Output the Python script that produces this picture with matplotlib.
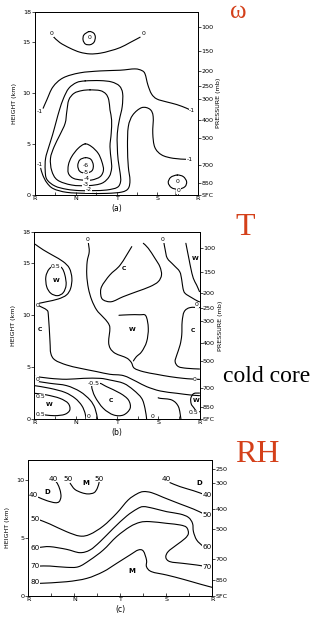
import matplotlib
matplotlib.use('Agg')
import matplotlib.pyplot as plt
from matplotlib.ticker import MultipleLocator
from matplotlib.path import Path
from matplotlib.patches import PathPatch

# ---------------- data ----------------
cats = ['R', 'N', 'T', 'S', 'R']
press_labels_ab = ['100', '150', '200', '250', '300', '400', '500', '700', '850', 'SFC']
press_heights_ab = [16.5, 14.15, 12.15, 10.7, 9.45, 7.35, 5.6, 2.95, 1.2, 0]
press_labels_c = ['250', '300', '400', '500', '700', '850', 'SFC']
press_heights_c = [10.95, 9.74, 7.49, 5.75, 3.15, 1.36, 0]

# panel (a) omega contours: (x in octant units R..R = 0..4, height km)
a_zero_arc_x = [0.45, 0.61, 0.86, 1.10, 1.35, 1.60, 1.84, 2.09, 2.33, 2.58]
a_zero_arc_y = [15.54, 14.95, 14.40, 14.01, 13.84, 13.91, 14.14, 14.46, 14.95, 15.48]
a_zero_loop_x = [1.33, 1.44, 1.48, 1.45, 1.36, 1.24, 1.18, 1.20, 1.33]
a_zero_loop_y = [16.03, 15.88, 15.50, 15.00, 14.75, 14.80, 15.20, 15.70, 16.03]
a_m1_upper_x = [0.20, 0.29, 0.44, 0.69, 1.10, 1.60, 2.09, 2.45, 2.62, 2.70, 2.77, 2.86, 2.99, 3.23, 3.48, 3.72, 3.82]
a_m1_upper_y = [8.51, 9.33, 10.60, 11.49, 11.98, 12.17, 12.24, 12.37, 12.21, 11.88, 10.80, 9.91, 9.42, 9.13, 8.87, 8.51, 8.31]
a_m1_lower_x = [0.14, 0.19, 0.29, 0.45, 0.78, 1.27, 1.76, 2.13, 2.29, 2.33, 2.29, 2.27, 2.29, 2.40, 2.62, 2.82, 2.90, 2.89, 2.94, 3.11, 3.39, 3.72]
a_m1_lower_y = [2.62, 1.96, 1.21, 0.62, 0.26, 0.16, 0.16, 0.29, 0.65, 1.47, 2.78, 4.74, 6.71, 7.85, 8.57, 8.41, 7.69, 6.05, 4.68, 3.93, 3.60, 3.50]
a_m2_x = [1.23, 1.60, 1.88, 2.07, 2.15, 2.14, 2.07, 2.02, 2.02, 2.04, 2.09, 2.10, 2.02, 1.76, 1.43, 1.10, 0.78, 0.49,
          0.29, 0.25, 0.26, 0.34, 0.43, 0.52, 0.60, 0.70, 0.83, 1.02, 1.23]
a_m2_y = [11.19, 11.22, 11.09, 10.70, 9.98, 8.67, 7.36, 6.05, 4.74, 3.44, 2.13, 1.31, 0.75, 0.49, 0.43, 0.43, 0.56, 0.88,
          1.54, 2.45, 3.60, 4.74, 5.89, 7.20, 8.34, 9.49, 10.47, 11.03, 11.19]
a_m3_x = [1.35, 1.60, 1.74, 1.81, 1.84, 1.88, 1.87, 1.84, 1.87, 1.88, 1.82, 1.64, 1.31, 0.90, 0.55, 0.41, 0.38, 0.47,
          0.61, 0.74, 0.78, 0.83, 0.96, 1.15, 1.35]
a_m3_y = [10.31, 10.24, 9.91, 9.33, 8.34, 7.36, 6.05, 4.74, 3.44, 2.62, 1.80, 1.15, 0.92, 0.98, 1.47, 2.39, 3.60, 4.74,
          5.89, 7.04, 8.18, 9.33, 9.98, 10.24, 10.31]
a_m4_x = [1.23, 1.39, 1.55, 1.64, 1.68, 1.60, 1.39, 1.15, 0.94, 0.82, 0.82, 0.90, 1.06, 1.23]
a_m4_y = [5.01, 4.74, 4.09, 3.27, 2.45, 1.80, 1.47, 1.47, 1.64, 2.13, 2.95, 3.76, 4.58, 5.01]
a_m5_x = [1.24, 1.37, 1.43, 1.40, 1.25, 1.10, 1.05, 1.10, 1.24]
a_m5_y = [3.66, 3.50, 2.95, 2.39, 2.13, 2.32, 2.88, 3.44, 3.66]
a_br_loop_x = [3.49, 3.64, 3.72, 3.68, 3.52, 3.35, 3.27, 3.33, 3.49]
a_br_loop_y = [1.96, 1.80, 1.31, 0.82, 0.56, 0.72, 1.21, 1.73, 1.96]
a_br_stub_x = [3.47, 3.46]
a_br_stub_y = [0.45, 0.0]
a_labels = [(0.41, 15.80, '0'), (2.66, 15.80, '0'), (1.34, 15.42, '0'), (0.12, 8.18, '-1'), (3.85, 8.25, '-1'),
            (3.80, 3.44, '-1'), (0.11, 3.01, '-1'), (1.24, 2.88, '-6'), (1.25, 2.22, '-5'), (1.27, 1.57, '-4'),
            (1.24, 1.03, '-3'), (1.31, 0.50, '-2'), (3.49, 1.28, '0'), (3.52, 0.42, '0')]

# panel (b) temperature contours
b_l1_x = [0.02, 0.22, 0.46, 0.70, 0.85, 0.91, 0.88, 0.78, 0.58, 0.30, 0.12]
b_l1_y = [16.85, 16.30, 15.75, 15.17, 14.53, 13.57, 12.60, 11.96, 11.57, 11.31, 11.16]
b_w_loop_x = [0.50, 0.66, 0.74, 0.77, 0.70, 0.56, 0.40, 0.30, 0.28, 0.36, 0.50]
b_w_loop_y = [14.78, 14.59, 13.89, 12.92, 12.18, 11.89, 12.12, 12.76, 13.72, 14.46, 14.78]
b_l3_x = [1.31, 1.33, 1.28, 1.27, 1.31, 1.39, 1.51, 1.66, 1.78, 1.83, 1.80, 1.84, 1.95, 2.10, 2.25, 2.35, 2.42, 2.64,
          2.96, 3.29, 3.61, 3.80, 4.0]
b_l3_y = [16.94, 16.13, 15.17, 13.89, 12.60, 11.48, 10.51, 9.85, 9.30, 8.75, 7.45, 6.80, 6.35, 6.10, 5.85, 5.45, 4.90,
          4.56, 4.31, 4.08, 3.92, 3.86, 3.82]
b_wmid_x = [2.05, 2.30, 2.55, 2.70, 2.76, 2.72, 2.60, 2.47, 2.40]
b_wmid_y = [10.00, 10.05, 10.05, 9.95, 8.75, 7.45, 6.49, 6.00, 5.60]
b_cloop_x = [2.36, 2.08, 1.83, 1.63, 1.61, 1.67, 1.87, 2.15, 2.48, 2.80, 3.00, 3.08, 3.04, 2.92, 2.76, 2.64]
b_cloop_y = [16.62, 14.85, 13.89, 12.76, 11.96, 11.48, 11.31, 11.79, 12.28, 12.76, 13.24, 13.89, 14.69, 15.50, 16.46, 16.94]
b_l5_x = [3.14, 3.17, 3.22, 3.37, 3.52, 3.57, 3.60, 3.65, 3.81, 3.95, 4.0]
b_l5_y = [16.95, 16.30, 15.50, 14.86, 14.21, 13.41, 12.60, 12.12, 11.70, 11.38, 11.30]
b_l6_x = [4.0, 3.77, 3.63, 3.58, 3.57, 3.53, 3.45, 3.41, 3.49, 3.69, 4.0]
b_l6_y = [10.74, 10.74, 10.35, 9.39, 8.10, 7.14, 6.17, 5.53, 5.05, 4.89, 4.82]
b_l7_x = [3.67, 3.71, 3.75, 3.79, 3.85, 3.93, 4.0]
b_l7_y = [16.94, 16.13, 15.33, 14.53, 13.57, 12.92, 12.28]
b_l4_x = [0.12, 0.30, 0.34, 0.38, 0.40, 0.50, 0.78, 1.11, 1.51, 1.83, 2.16, 2.48, 2.72, 3.05, 3.45, 3.77, 4.0]
b_l4_y = [10.90, 10.51, 10.03, 7.46, 6.33, 5.69, 5.21, 4.89, 4.57, 4.31, 4.18, 3.60, 3.12, 2.70, 2.48, 2.32, 2.25]
b_p1_x = [0.0, 0.38, 0.78, 1.19, 1.59, 1.83, 2.16, 2.40, 2.60, 2.68, 2.72]
b_p1_y = [4.12, 3.92, 3.83, 3.92, 3.92, 3.76, 3.44, 2.80, 1.99, 1.03, 0.0]
b_p3_x = [0.0, 0.38, 0.78, 1.11, 1.35, 1.47, 1.53]
b_p3_y = [3.67, 3.44, 3.22, 2.64, 1.83, 1.03, 0.0]
b_p2_x = [0.0, 0.38, 0.74, 0.99, 1.15, 1.23, 1.25]
b_p2_y = [3.22, 2.96, 2.57, 1.99, 1.29, 0.55, 0.0]
b_half_x = [0.0, 0.30, 0.62, 0.82, 0.86, 0.74, 0.50, 0.26, 0.0]
b_half_y = [2.48, 2.32, 1.99, 1.51, 0.87, 0.45, 0.32, 0.39, 0.45]
b_cold_x = [1.45, 1.59, 1.75, 2.08, 2.28, 2.32, 2.16, 1.92, 1.67, 1.47, 1.39, 1.45]
b_cold_y = [3.40, 3.44, 3.12, 2.48, 1.83, 1.03, 0.39, 0.39, 1.03, 2.15, 3.12, 3.40]
b_g_x = [3.00, 3.05, 3.33, 3.49, 3.55]
b_g_y = [2.05, 1.99, 1.83, 1.19, 0.0]
b_wbr_x = [4.0, 3.86, 3.79, 3.80, 3.86, 3.93, 4.0]
b_wbr_y = [2.50, 2.45, 2.00, 1.45, 1.10, 0.75, 0.70]
b_labels = [(0.07, 10.99, '0'), (0.52, 14.75, '0.5'), (1.28, 17.26, '0'), (3.11, 17.27, '0'), (3.94, 11.0, '0'),
            (3.89, 3.83, '0'), (0.07, 3.83, '0'), (1.43, 3.44, '-0.5'), (0.14, 2.15, '0.5'), (0.14, 0.45, '0.5'),
            (1.31, 0.23, '0'), (2.86, 0.23, '0'), (3.86, 0.62, '0.5')]
b_letters = [(0.53, 13.31, 'W'), (3.89, 15.43, 'W'), (2.16, 14.53, 'C'), (0.14, 8.59, 'C'), (2.36, 8.59, 'W'),
             (3.85, 8.52, 'C'), (0.36, 1.35, 'W'), (1.86, 1.77, 'C'), (3.93, 1.80, 'W')]

# panel (c) relative humidity contours
c_40l_x = [0.58, 0.63, 0.69, 0.71, 0.67, 0.58, 0.40, 0.22]
c_40l_y = [9.97, 9.74, 9.16, 8.58, 8.15, 8.06, 8.24, 8.53]
c_50t_x = [0.91, 1.01, 1.16, 1.30, 1.43, 1.50, 1.54]
c_50t_y = [9.74, 9.22, 8.93, 8.82, 8.93, 9.31, 9.83]
c_40r_x = [3.08, 3.30, 3.59, 3.79]
c_40r_y = [9.80, 9.45, 9.10, 8.82]
c_50_x = [0.25, 0.47, 0.83, 1.12, 1.34, 1.63, 1.92, 2.17, 2.36, 2.50, 2.68, 2.93, 3.30, 3.59, 3.79]
c_50_y = [6.56, 6.21, 5.55, 5.17, 5.32, 6.04, 7.14, 8.29, 8.82, 9.02, 8.93, 8.53, 7.95, 7.51, 7.14]
c_60_x = [0.25, 0.47, 0.83, 1.12, 1.34, 1.56, 1.85, 2.14, 2.36, 2.50, 2.72, 3.01, 3.30, 3.48, 3.57, 3.59, 3.66, 3.79]
c_60_y = [4.19, 4.25, 4.02, 3.73, 3.96, 4.68, 5.84, 6.91, 7.51, 7.72, 7.57, 7.28, 7.08, 6.79, 6.27, 5.55, 4.83, 4.31]
c_70_x = [0.25, 0.47, 0.83, 1.09, 1.34, 1.63, 1.92, 2.21, 2.43, 2.64, 3.01, 3.30, 3.44, 3.48, 3.41, 3.22, 3.04, 2.99,
          3.08, 3.37, 3.66, 3.80]
c_70_y = [2.57, 2.57, 2.46, 2.51, 3.09, 3.96, 5.12, 5.98, 6.36, 6.42, 6.27, 6.13, 5.92, 5.40, 4.97, 4.39, 3.82, 3.32,
          2.95, 2.80, 2.66, 2.57]
c_80_x = [0.25, 0.83, 1.27, 1.63, 1.92, 2.21, 2.39, 2.50, 2.57, 2.57, 2.68, 3.01, 3.37, 3.73, 4.0]
c_80_y = [1.07, 1.21, 1.50, 2.08, 2.80, 3.53, 3.96, 3.87, 3.09, 2.51, 2.08, 1.79, 1.42, 1.01, 0.72]
c_labels = [(0.11, 8.73, '40'), (0.54, 10.12, '40'), (0.87, 10.12, '50'), (1.54, 10.12, '50'), (2.99, 10.12, '40'),
            (3.88, 8.73, '40'), (0.14, 6.68, '50'), (3.88, 6.99, '50'), (0.14, 4.10, '60'), (3.88, 4.19, '60'),
            (0.14, 2.57, '70'), (3.88, 2.51, '70'), (0.14, 1.16, '80')]
c_letters = [(0.42, 9.02, 'D'), (1.25, 9.74, 'M'), (3.71, 9.74, 'D'), (2.26, 2.17, 'M')]

# ---------------- drawing ----------------
W, H = 323, 623
fig = plt.figure(figsize=(W / 100, H / 100), dpi=100)
fig.patch.set_facecolor('white')

LW = 0.8
TFS = 4.6


def box(l, t, r, b):
    return [l / W, 1 - b / H, (r - l) / W, (b - t) / H]


def setup(ax, ytop, yticks, plabels, pheights, letter, plab=True):
    ax.set_xlim(0, 4)
    ax.set_ylim(0, ytop)
    for s in ax.spines.values():
        s.set_linewidth(0.7)
    ax.set_xticks(range(5))
    ax.set_xticklabels(cats, fontsize=TFS)
    ax.xaxis.set_minor_locator(MultipleLocator(0.5))
    ax.tick_params(axis='x', which='both', direction='in', length=2.5, width=0.5, pad=1)
    ax.set_yticks(yticks)
    ax.set_yticklabels([str(v) for v in yticks], fontsize=TFS)
    ax.tick_params(axis='y', direction='out', length=2, width=0.5, pad=1)
    ax2 = ax.twinx()
    ax2.set_ylim(0, ytop)
    ax2.set_yticks(pheights)
    ax2.set_yticklabels(plabels, fontsize=TFS)
    ax2.tick_params(axis='y', direction='out', length=2, width=0.5, pad=0.5)
    for s in ax2.spines.values():
        s.set_linewidth(0.7)
    ax.set_xlabel(letter, fontsize=5.5, labelpad=2)
    ax.set_ylabel('HEIGHT (km)', fontsize=4.6, labelpad=4)
    if plab:
        ax2.set_ylabel('PRESSURE (mb)', fontsize=4.6, labelpad=2, rotation=90)
    return ax2


def line(ax, xs, ys):
    # smooth rendering (Catmull-Rom as cubic Bezier segments) through the read points
    pts = list(zip(xs, ys))
    closed = len(pts) > 3 and pts[0] == pts[-1]
    n = len(pts)
    if n < 3:
        ax.plot(xs, ys, color='black', lw=LW, zorder=2)
        return
    verts = [pts[0]]
    codes = [Path.MOVETO]
    for i in range(n - 1):
        p1, p2 = pts[i], pts[i + 1]
        if i > 0:
            p0 = pts[i - 1]
        else:
            p0 = pts[-2] if closed else p1
        if i + 2 < n:
            p3 = pts[i + 2]
        else:
            p3 = pts[1] if closed else p2
        c1 = (p1[0] + (p2[0] - p0[0]) / 6, p1[1] + (p2[1] - p0[1]) / 6)
        c2 = (p2[0] - (p3[0] - p1[0]) / 6, p2[1] - (p3[1] - p1[1]) / 6)
        verts += [c1, c2, p2]
        codes += [Path.CURVE4] * 3
    ax.add_patch(PathPatch(Path(verts, codes), facecolor='none', edgecolor='black', lw=LW,
                           capstyle='round', zorder=2, clip_on=True))


def lab(ax, items, fs=4.4):
    for x, y, s in items:
        ax.text(x, y, s, fontsize=fs, ha='center', va='center', zorder=3,
                bbox=dict(facecolor='white', edgecolor='none', pad=0.2))


def letters(ax, items, fs=4.4):
    for x, y, s in items:
        ax.text(x, y, s, fontsize=fs, ha='center', va='center', fontweight='bold', zorder=3)


# ---- panel (a)
axa = fig.add_axes(box(35, 11.5, 198, 195))
setup(axa, 18, [0, 5, 10, 15, 18], press_labels_ab, press_heights_ab, '(a)')
for xs, ys in [(a_zero_arc_x, a_zero_arc_y), (a_zero_loop_x, a_zero_loop_y), (a_m1_upper_x, a_m1_upper_y),
               (a_m1_lower_x, a_m1_lower_y), (a_m2_x, a_m2_y), (a_m3_x, a_m3_y), (a_m4_x, a_m4_y),
               (a_m5_x, a_m5_y), (a_br_loop_x, a_br_loop_y), (a_br_stub_x, a_br_stub_y)]:
    line(axa, xs, ys)
lab(axa, a_labels)

# ---- panel (b)
axb = fig.add_axes(box(34.3, 232.3, 199.5, 419))
setup(axb, 18, [0, 5, 10, 15, 18], press_labels_ab, press_heights_ab, '(b)')
for xs, ys in [(b_l1_x, b_l1_y), (b_w_loop_x, b_w_loop_y), (b_l3_x, b_l3_y), (b_wmid_x, b_wmid_y),
               (b_cloop_x, b_cloop_y), (b_l5_x, b_l5_y), (b_l6_x, b_l6_y), (b_l7_x, b_l7_y), (b_l4_x, b_l4_y),
               (b_p1_x, b_p1_y), (b_p3_x, b_p3_y), (b_p2_x, b_p2_y), (b_half_x, b_half_y), (b_cold_x, b_cold_y),
               (b_g_x, b_g_y), (b_wbr_x, b_wbr_y)]:
    line(axb, xs, ys)
lab(axb, b_labels)
letters(axb, b_letters)

# ---- panel (c)
axc = fig.add_axes(box(28.3, 460, 212.3, 595.7))
setup(axc, 11.76, [0, 5, 10], press_labels_c, press_heights_c, '(c)', plab=False)
for xs, ys in [(c_40l_x, c_40l_y), (c_50t_x, c_50t_y), (c_40r_x, c_40r_y), (c_50_x, c_50_y), (c_60_x, c_60_y),
               (c_70_x, c_70_y), (c_80_x, c_80_y)]:
    line(axc, xs, ys)
lab(axc, c_labels, fs=5.2)
letters(axc, c_letters, fs=5.0)

# ---- annotations
RED = '#d4401a'
serif = ['Liberation Serif', 'DejaVu Serif']
fig.text(238 / W, 1 - 12 / H, 'ω', color=RED, fontsize=18, ha='center', va='center', family=serif)
fig.text(245 / W, 1 - 228 / H, 'T', color=RED, fontsize=23, ha='center', va='center', family=serif)
fig.text(267 / W, 1 - 377 / H, 'cold core', color='black', fontsize=17, ha='center', va='center', family=serif)
fig.text(257 / W, 1 - 455 / H, 'RH', color=RED, fontsize=23, ha='center', va='center', family=serif)

fig.savefig('out.png', dpi=100, facecolor='white')
